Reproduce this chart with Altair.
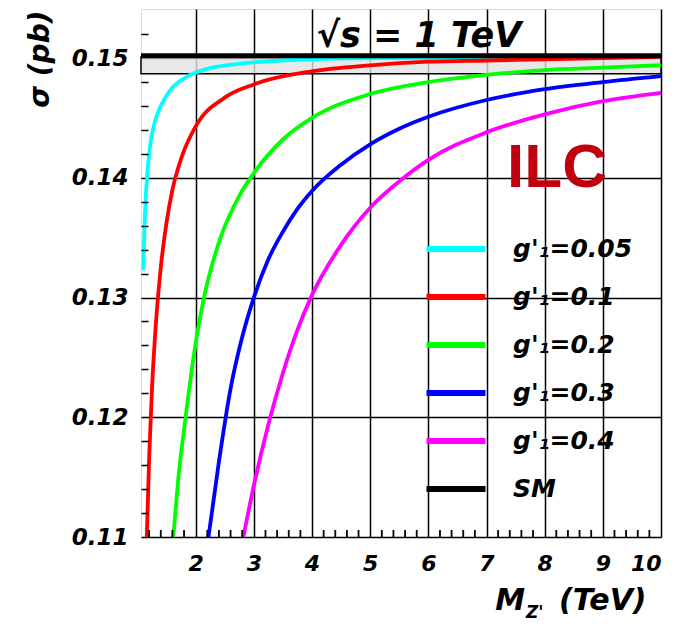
import altair as alt
import pandas as pd

# ---------------- data ----------------
labels = ["g'₁=0.05", "g'₁=0.1", "g'₁=0.2", "g'₁=0.3", "g'₁=0.4", "SM"]
colors = ["#00ffff", "#ff0000", "#00ff00", "#0000ff", "#ff00ff", "#000000"]

m_005 = [1.10, 1.12, 1.14, 1.17, 1.22, 1.30, 1.40, 1.56, 1.80, 2.2, 2.7, 3.5, 5.0, 10.0]
s_005 = [0.1323, 0.1360, 0.1382, 0.1404, 0.1428, 0.1447, 0.1460, 0.1473, 0.1483,
         0.1491, 0.1495, 0.1498, 0.1500, 0.1501]

m_01 = [1.16, 1.20, 1.25, 1.30, 1.40, 1.50, 1.60, 1.75, 2.0, 2.5, 3.0, 4.0, 5.0, 6.0, 7.0, 8.0, 10.0]
s_01 = [0.1100, 0.1166, 0.1225, 0.1267, 0.1325, 0.1363, 0.1390, 0.1416, 0.1443,
        0.1467, 0.1478, 0.1489, 0.1494, 0.1497, 0.1498, 0.1499, 0.1501]

m_02 = [1.615, 1.70, 1.83, 2.0, 2.13, 2.42, 2.75, 3.0, 3.5, 4.0, 5.0, 6.0, 7.0, 8.0, 9.0, 10.0]
s_02 = [0.1100, 0.1148, 0.1201, 0.1262, 0.1297, 0.1349, 0.1385, 0.1404, 0.1432,
        0.1450, 0.1470, 0.1480, 0.1486, 0.1490, 0.1492, 0.1494]

m_03 = [2.22, 2.4, 2.6, 2.8, 3.0, 3.25, 3.5, 3.75, 4.0, 4.5, 5.0, 5.5, 6.0, 7.0, 8.0, 9.0, 10.0]
s_03 = [0.1100, 0.1163, 0.1224, 0.1267, 0.1300, 0.1332, 0.1355, 0.1374, 0.1389,
        0.1411, 0.1428, 0.1441, 0.1451, 0.1465, 0.1474, 0.1480, 0.1485]

m_04 = [2.82, 3.0, 3.25, 3.5, 3.75, 4.0, 4.5, 5.0, 5.5, 6.0, 7.0, 8.0, 9.0, 10.0]
s_04 = [0.1100, 0.1143, 0.1194, 0.1237, 0.1273, 0.1302, 0.1344, 0.1375, 0.1397,
        0.1415, 0.1438, 0.1453, 0.1464, 0.1471]

sm_m = [1.06, 10.0]
sm_s = [0.1502, 0.1502]
band_lo = [0.1487]
band_hi = [0.1501]
band_x = [1.06]
band_x2 = [10.0]

x_domain = [1.06, 10.0]
y_domain = [0.11, 0.1541]
x_major = [2, 3, 4, 5, 6, 7, 8, 9, 10]
y_major = [0.11, 0.12, 0.13, 0.14, 0.15]
x_minor = [1.2, 1.4, 1.6, 1.8, 2.2, 2.4, 2.6, 2.8, 3.2, 3.4, 3.6, 3.8,
           4.2, 4.4, 4.6, 4.8, 5.2, 5.4, 5.6, 5.8, 6.2, 6.4, 6.6, 6.8,
           7.2, 7.4, 7.6, 7.8, 8.2, 8.4, 8.6, 8.8, 9.2, 9.4, 9.6, 9.8]
y_minor = [0.112, 0.114, 0.116, 0.118, 0.122, 0.124, 0.126, 0.128,
           0.132, 0.134, 0.136, 0.138, 0.142, 0.144, 0.146, 0.148, 0.152]

# ---------------- tables ----------------
rows = []
for lab, ms, ss in zip(labels[:5], [m_005, m_01, m_02, m_03, m_04],
                       [s_005, s_01, s_02, s_03, s_04]):
    for m, s in zip(ms, ss):
        rows.append({"M": m, "sigma": s, "series": lab})
curves = pd.DataFrame(rows)
sm_df = pd.DataFrame({"M": sm_m, "sigma": sm_s, "series": ["SM"] * len(sm_m)})
band_df = pd.DataFrame({"x": band_x, "x2": band_x2, "lo": band_lo, "hi": band_hi})
xminor_df = pd.DataFrame({"xm": x_minor, "ylo": [y_domain[0]] * len(x_minor)})

FONT = "DejaVu Sans"
W, H = 520, 528

xscale = alt.Scale(domain=x_domain, nice=False, zero=False)
yscale = alt.Scale(domain=y_domain, nice=False, zero=False)

color = alt.Color(
    "series:N",
    scale=alt.Scale(domain=labels, range=colors),
    legend=alt.Legend(
        title=None, orient="none", legendX=302, legendY=227, direction="vertical",
        symbolType="M-3,0L3,0", symbolSize=387, symbolStrokeWidth=6,
        labelFont=FONT, labelFontSize=25, labelFontWeight="bold",
        labelFontStyle="italic", labelColor="black", labelOffset=44,
        rowPadding=22, padding=0, symbolOpacity=1,
    ),
)

minor_common = dict(tickSize=7, tickWidth=1.5, tickColor="black", tickOpacity=1,
                    labels=False, grid=False, domain=False, title=None, zindex=2)

# hatched band (approximated by a light fill)
band = alt.Chart(band_df).mark_rect(fill="#e2e2e2", fillOpacity=0.8, stroke="black",
                                    strokeWidth=1.5).encode(
    x=alt.X("x:Q", scale=xscale, axis=None),
    x2="x2:Q",
    y=alt.Y("lo:Q", scale=yscale, axis=None),
    y2="hi:Q",
)

# inward minor ticks along the bottom edge (short rules standing on the x axis)
minor_x_layer = alt.Chart(xminor_df).mark_rule(color="black", strokeWidth=1.8).encode(
    x=alt.X("xm:Q", scale=xscale, axis=None),
    y=alt.Y("ylo:Q", scale=yscale, axis=None),
    y2=alt.value(H - 7),
)
# inward minor ticks along the left side
minor_y_layer = alt.Chart(sm_df).mark_point(opacity=0).encode(
    x=alt.X("M:Q", scale=xscale, axis=None),
    y=alt.Y("sigma:Q", scale=yscale,
            axis=alt.Axis(values=y_minor, orient="left", offset=-7, **minor_common)),
)

lines = alt.Chart(curves).mark_line(strokeWidth=3.8, interpolate="monotone").encode(
    x=alt.X("M:Q", scale=xscale,
            axis=alt.Axis(values=x_major, format="d", orient="bottom", grid=True,
                          gridColor="black", gridWidth=1.5, gridOpacity=1,
                          ticks=False, domain=False, title=None,
                          labelFont=FONT, labelFontSize=22, labelFontWeight="bold",
                          labelFontStyle="italic", labelColor="black", labelPadding=16)),
    y=alt.Y("sigma:Q", scale=yscale,
            axis=alt.Axis(values=y_major, format=".2f", orient="left", grid=True,
                          gridColor="black", gridWidth=1.5, gridOpacity=1,
                          ticks=False, domain=False,
                          labelFont=FONT, labelFontSize=23, labelFontWeight="bold",
                          labelFontStyle="italic", labelColor="black", labelPadding=13,
                          title="σ (pb)", titleFont=FONT, titleFontSize=28,
                          titleFontWeight="bold", titleFontStyle="italic",
                          titleColor="black", titleAngle=270, titleAlign="right",
                          titleBaseline="middle", titleX=-101, titleY=1)),
    color=color,
    detail="series:N",
)

sm_line = alt.Chart(sm_df).mark_line(strokeWidth=5).encode(
    x=alt.X("M:Q", scale=xscale, axis=None),
    y=alt.Y("sigma:Q", scale=yscale, axis=None),
    color=color,
)

def txt(s, x, y, size, weight="bold", style="italic", font=FONT, col="black",
        align="center"):
    return alt.Chart(pd.DataFrame({"t": [s]})).mark_text(
        font=font, fontSize=size, fontWeight=weight, fontStyle=style, color=col,
        align=align, baseline="alphabetic").encode(
        x=alt.value(x), y=alt.value(y), text="t:N")

t_sqrt = txt("√s = 1 TeV", 278, 38, 35)
t_ilc = txt("ILC", 416, 178, 62, style="normal", font="Liberation Sans", col="#c0000e")
t_m = txt("M", 384, 601, 30, align="right")
t_z = txt("Z'", 385, 609, 17, align="left")
t_tev = txt("(TeV)", 418, 601, 30, align="left")

chart = alt.layer(band, lines, sm_line, minor_x_layer, minor_y_layer,
                  t_sqrt, t_ilc, t_m, t_z, t_tev).resolve_axis(
    x="independent", y="independent"
).properties(
    width=W, height=H,
    padding={"left": 141, "top": 9, "right": 24, "bottom": 87},
    autosize=alt.AutoSizeParams(type="none"),
).configure_view(stroke="black", strokeWidth=2).configure(background="white")

chart.save("out.html", embed_options={"renderer": "svg", "actions": False})
